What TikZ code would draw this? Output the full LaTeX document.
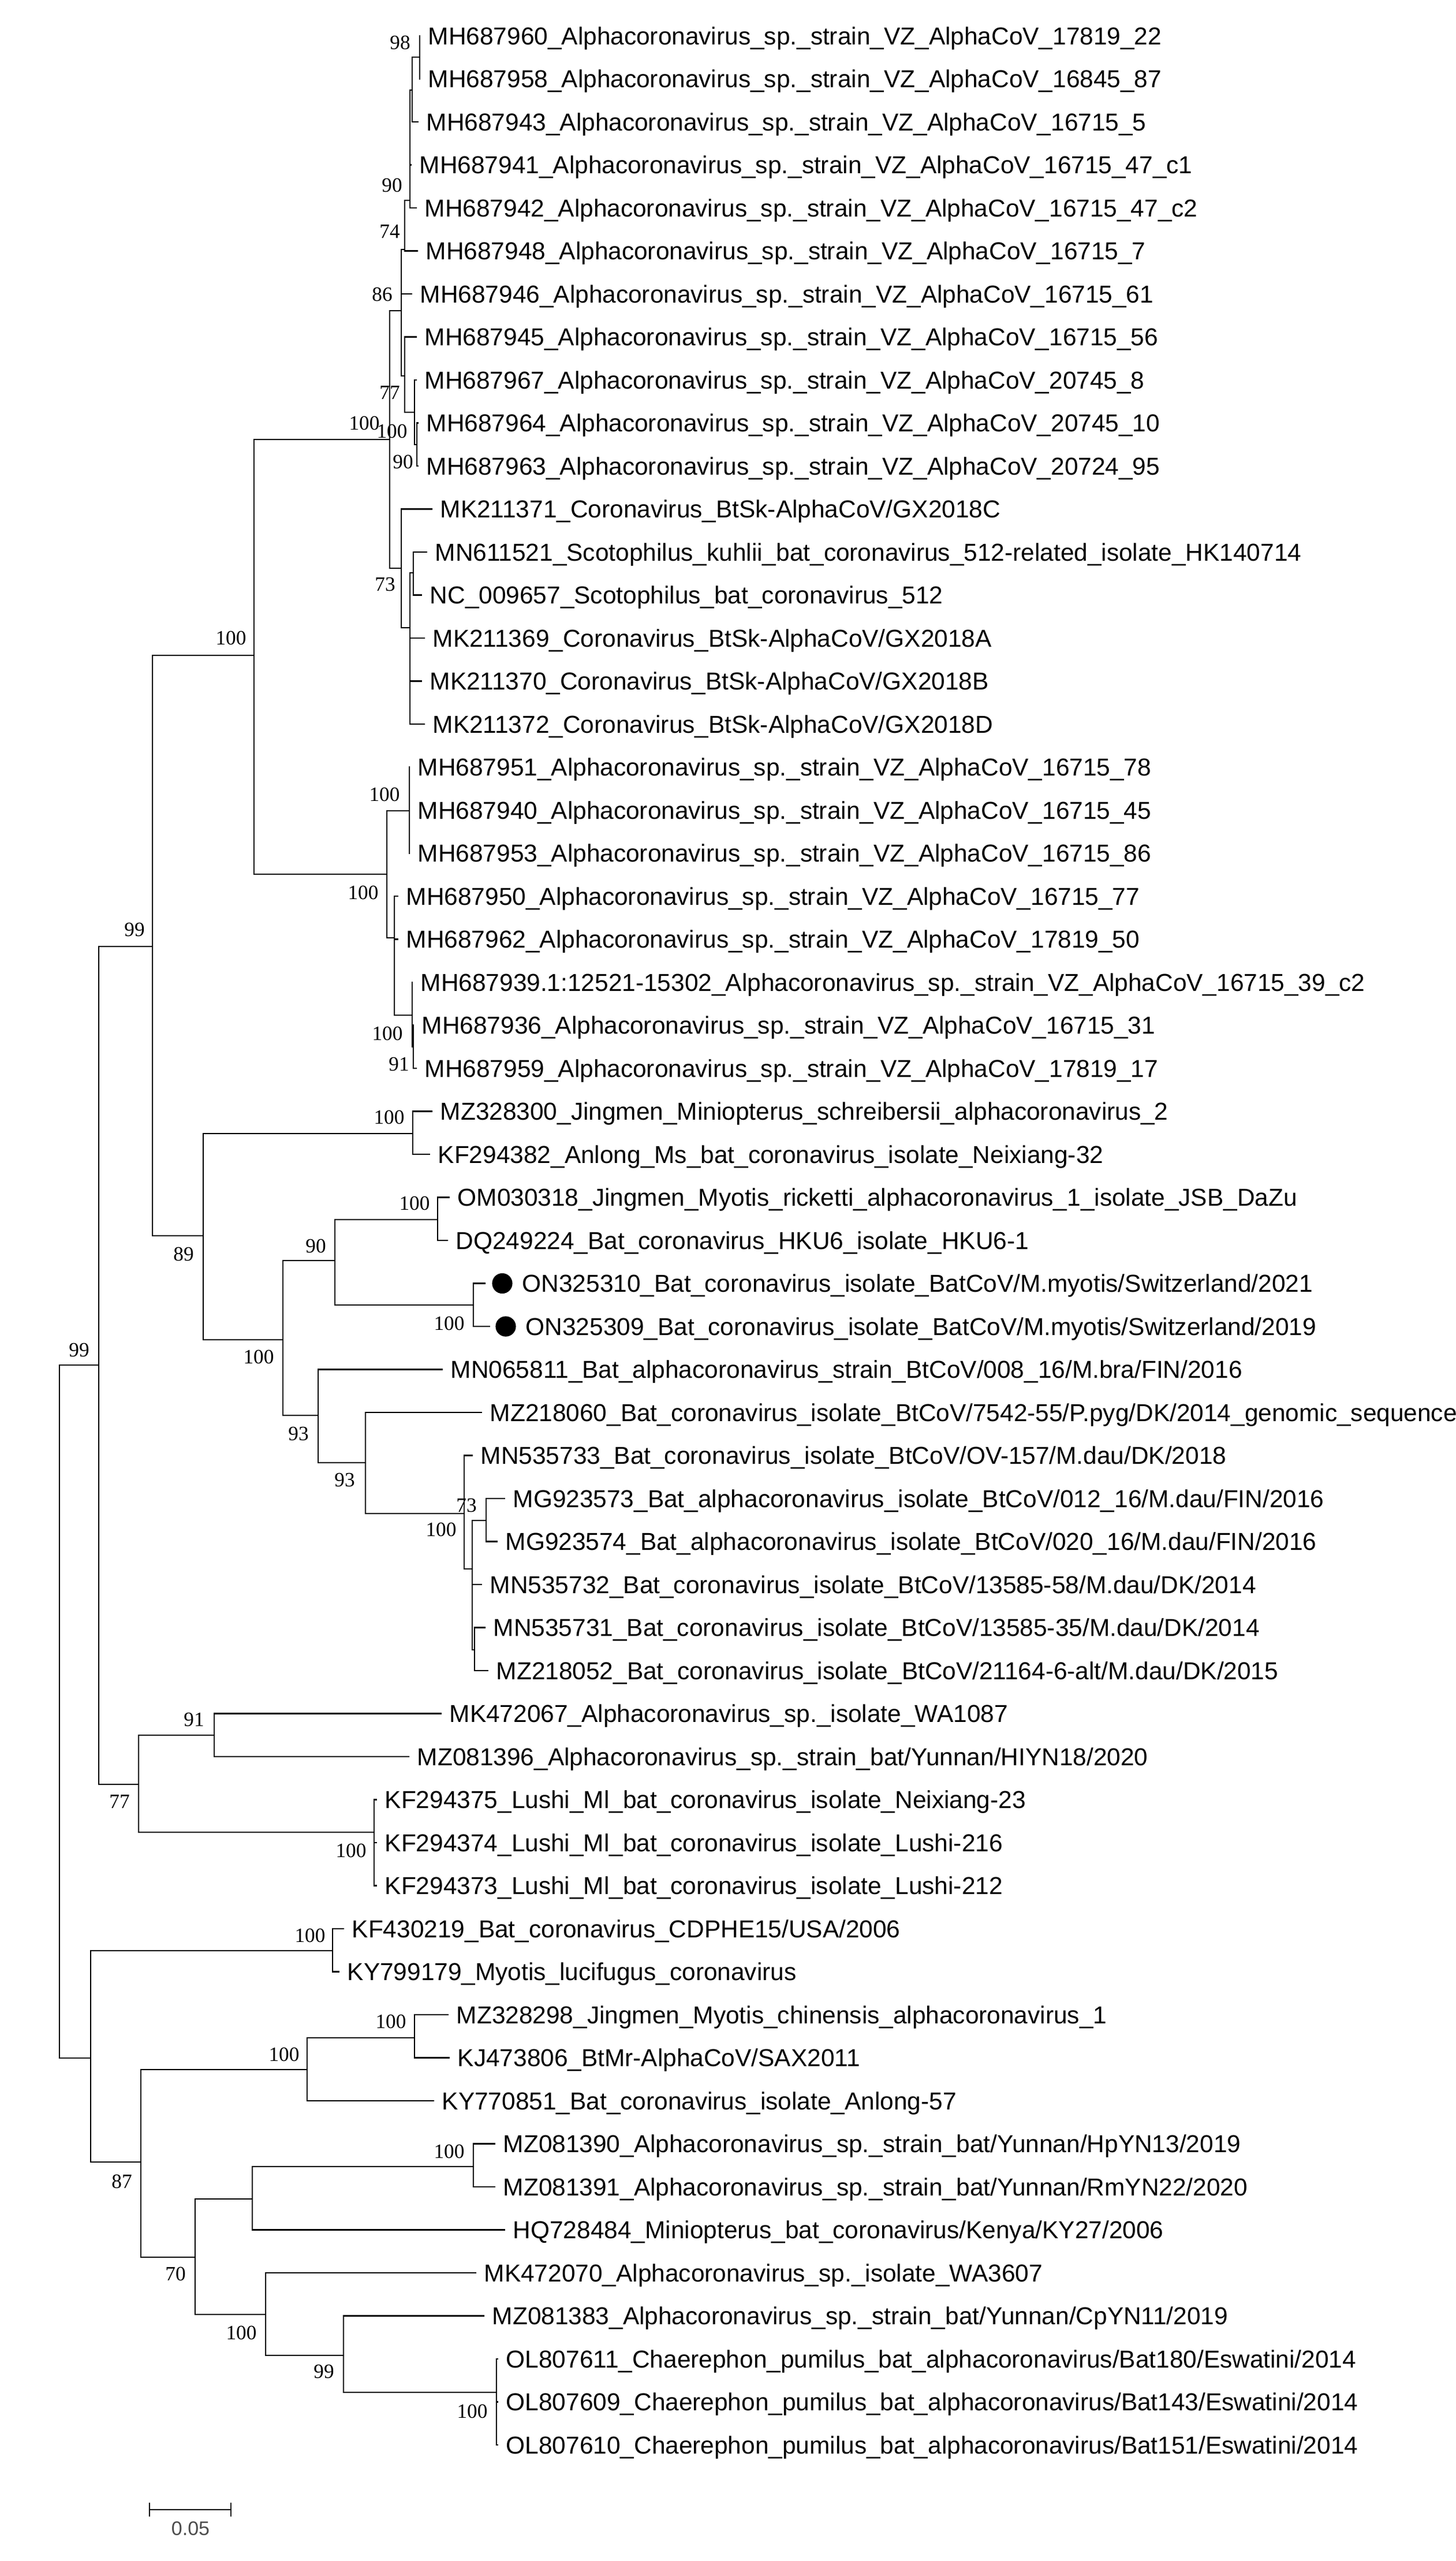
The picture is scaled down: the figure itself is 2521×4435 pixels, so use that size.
\documentclass[tikz,border=0pt]{standalone}
\usepackage{fontspec}
\setmainfont{Liberation Sans}
\newfontfamily\bsfont{Liberation Serif}
\newcommand{\VZ}{\_Alphacoronavirus\_sp.\_strain\_VZ\_AlphaCoV\_}
\newcommand{\LE}[4]{%
  \coordinate (L#1) at (#2,{62+74.5*(#1-1)});
  \node[leaf] (T#1) at (#3,{62+74.5*(#1-1)+15}) {#4};}
\newcommand{\LF}[3]{\LE{#1}{#2}{#2+14}{#3}}
\tikzset{
  leaf/.style={anchor=base west,inner sep=0pt,font=\fontsize{10.6}{12}\selectfont},
  bs/.style={inner sep=0pt,font=\bsfont\fontsize{8.8}{10}\selectfont},
  br/.style={line width=0.65pt,line cap=rect}
}
\begin{document}
\begin{tikzpicture}[x=0.25pt,y=-0.25pt]
\useasboundingbox (0,0) rectangle (2521,4435);
% leaves
\LF{1}{727}{MH687960\VZ 17819\_22}
\LF{2}{727}{MH687958\VZ 16845\_87}
\LF{3}{724}{MH687943\VZ 16715\_5}
\LF{4}{712}{MH687941\VZ 16715\_47\_c1}
\LF{5}{721}{MH687942\VZ 16715\_47\_c2}
\LF{6}{723}{MH687948\VZ 16715\_7}
\LF{7}{713}{MH687946\VZ 16715\_61}
\LF{8}{721}{MH687945\VZ 16715\_56}
\LF{9}{721}{MH687967\VZ 20745\_8}
\LF{10}{724}{MH687964\VZ 20745\_10}
\LF{11}{724}{MH687963\VZ 20724\_95}
\LF{12}{748}{MK211371\_Coronavirus\_BtSk-AlphaCoV/GX2018C}
\LF{13}{739}{MN611521\_Scotophilus\_kuhlii\_bat\_coronavirus\_512-related\_isolate\_HK140714}
\LF{14}{730}{NC\_009657\_Scotophilus\_bat\_coronavirus\_512}
\LF{15}{735}{MK211369\_Coronavirus\_BtSk-AlphaCoV/GX2018A}
\LF{16}{730}{MK211370\_Coronavirus\_BtSk-AlphaCoV/GX2018B}
\LF{17}{735}{MK211372\_Coronavirus\_BtSk-AlphaCoV/GX2018D}
\LF{18}{709}{MH687951\VZ 16715\_78}
\LF{19}{709}{MH687940\VZ 16715\_45}
\LF{20}{709}{MH687953\VZ 16715\_86}
\LF{21}{689}{MH687950\VZ 16715\_77}
\LF{22}{689}{MH687962\VZ 17819\_50}
\LF{23}{714}{MH687939.1:12521-15302\VZ 16715\_39\_c2}
\LF{24}{716}{MH687936\VZ 16715\_31}
\LF{25}{721}{MH687959\VZ 17819\_17}
\LF{26}{748}{MZ328300\_Jingmen\_Miniopterus\_schreibersii\_alphacoronavirus\_2}
\LF{27}{744}{KF294382\_Anlong\_Ms\_bat\_coronavirus\_isolate\_Neixiang-32}
\LF{28}{778}{OM030318\_Jingmen\_Myotis\_ricketti\_alphacoronavirus\_1\_isolate\_JSB\_DaZu}
\LF{29}{775}{DQ249224\_Bat\_coronavirus\_HKU6\_isolate\_HKU6-1}
\LE{30}{840}{904}{ON325310\_Bat\_coronavirus\_isolate\_BatCoV/M.myotis/Switzerland/2021}
\LE{31}{848}{910}{ON325309\_Bat\_coronavirus\_isolate\_BatCoV/M.myotis/Switzerland/2019}
\LF{32}{766}{MN065811\_Bat\_alphacoronavirus\_strain\_BtCoV/008\_16/M.bra/FIN/2016}
\LF{33}{834}{MZ218060\_Bat\_coronavirus\_isolate\_BtCoV/7542-55/P.pyg/DK/2014\_genomic\_sequence}
\LF{34}{818}{MN535733\_Bat\_coronavirus\_isolate\_BtCoV/OV-157/M.dau/DK/2018}
\LF{35}{874}{MG923573\_Bat\_alphacoronavirus\_isolate\_BtCoV/012\_16/M.dau/FIN/2016}
\LF{36}{861}{MG923574\_Bat\_alphacoronavirus\_isolate\_BtCoV/020\_16/M.dau/FIN/2016}
\LF{37}{834}{MN535732\_Bat\_coronavirus\_isolate\_BtCoV/13585-58/M.dau/DK/2014}
\LF{38}{840}{MN535731\_Bat\_coronavirus\_isolate\_BtCoV/13585-35/M.dau/DK/2014}
\LF{39}{845}{MZ218052\_Bat\_coronavirus\_isolate\_BtCoV/21164-6-alt/M.dau/DK/2015}
\LF{40}{764}{MK472067\_Alphacoronavirus\_sp.\_isolate\_WA1087}
\LF{41}{708}{MZ081396\_Alphacoronavirus\_sp.\_strain\_bat/Yunnan/HIYN18/2020}
\LF{42}{652}{KF294375\_Lushi\_Ml\_bat\_coronavirus\_isolate\_Neixiang-23}
\LF{43}{652}{KF294374\_Lushi\_Ml\_bat\_coronavirus\_isolate\_Lushi-216}
\LF{44}{652}{KF294373\_Lushi\_Ml\_bat\_coronavirus\_isolate\_Lushi-212}
\LF{45}{595}{KF430219\_Bat\_coronavirus\_CDPHE15/USA/2006}
\LF{46}{587}{KY799179\_Myotis\_lucifugus\_coronavirus}
\LF{47}{776}{MZ328298\_Jingmen\_Myotis\_chinensis\_alphacoronavirus\_1}
\LF{48}{778}{KJ473806\_BtMr-AlphaCoV/SAX2011}
\LF{49}{751}{KY770851\_Bat\_coronavirus\_isolate\_Anlong-57}
\LF{50}{857}{MZ081390\_Alphacoronavirus\_sp.\_strain\_bat/Yunnan/HpYN13/2019}
\LF{51}{857}{MZ081391\_Alphacoronavirus\_sp.\_strain\_bat/Yunnan/RmYN22/2020}
\LF{52}{874}{HQ728484\_Miniopterus\_bat\_coronavirus/Kenya/KY27/2006}
\LF{53}{824}{MK472070\_Alphacoronavirus\_sp.\_isolate\_WA3607}
\LF{54}{838}{MZ081383\_Alphacoronavirus\_sp.\_strain\_bat/Yunnan/CpYN11/2019}
\LF{55}{862}{OL807611\_Chaerephon\_pumilus\_bat\_alphacoronavirus/Bat180/Eswatini/2014}
\LF{56}{862}{OL807609\_Chaerephon\_pumilus\_bat\_alphacoronavirus/Bat143/Eswatini/2014}
\LF{57}{862}{OL807610\_Chaerephon\_pumilus\_bat\_alphacoronavirus/Bat151/Eswatini/2014}
% dots
\fill (870,2222.5) circle[radius=4.4pt];
\fill (876,2297) circle[radius=4.4pt];
% internal nodes
\coordinate (root) at (103,2964);
\coordinate (nA99) at (171,2364);
\coordinate (nR) at (157,3564);
\coordinate (nB) at (264,1639);
\coordinate (n440) at (440,1135);
\coordinate (nT100) at (675,761);
\coordinate (n86) at (695,538);
\coordinate (n74) at (701,432);
\coordinate (n90) at (710,347);
\coordinate (nA) at (714,156);
\coordinate (n98) at (727,99);
\coordinate (n77) at (701,651);
\coordinate (nb100) at (718,714);
\coordinate (nb90) at (722,770);
\coordinate (n73) at (695,984);
\coordinate (nS) at (710,1087);
\coordinate (nSco) at (716,992);
\coordinate (nc100) at (670,1514);
\coordinate (nd100) at (709,1404);
\coordinate (nE) at (683,1624);
\coordinate (nF) at (714,1758);
\coordinate (nG) at (716,1813);
\coordinate (n89) at (352,2140);
\coordinate (nMZ) at (715,1963);
\coordinate (ne100) at (490,2320);
\coordinate (n90c) at (580,2183);
\coordinate (nf100) at (758,2112);
\coordinate (nON) at (820,2260);
\coordinate (n93a) at (551,2451);
\coordinate (n93b) at (633,2533);
\coordinate (ng100) at (804,2621);
\coordinate (nH) at (818,2717);
\coordinate (n73b) at (842,2633);
\coordinate (nI) at (822,2857);
\coordinate (n77b) at (240,3090);
\coordinate (n91) at (371,3005);
\coordinate (nh100) at (648,3173);
\coordinate (nKF) at (576,3378);
\coordinate (n87) at (244,3744);
\coordinate (ni100) at (532,3584);
\coordinate (nj100) at (718,3529);
\coordinate (n70) at (338,3909);
\coordinate (nQ) at (437,3808);
\coordinate (nl100) at (820,3752);
\coordinate (nk100) at (460,4008);
\coordinate (n99) at (595,4079);
\coordinate (nm100) at (860,4143);
% edges
\foreach \p/\cs in {root/{nA99,nR}, nA99/{nB,n77b}, nB/{n440,n89}, n440/{nT100,nc100},
  nT100/{n86,n73}, n86/{n74,L7,n77}, n74/{n90,L6}, n90/{nA,L4,L5}, nA/{n98,L3}, n98/{L1,L2},
  n77/{L8,nb100}, nb100/{L9,nb90}, nb90/{L10,L11}, n73/{L12,nS}, nS/{nSco,L15,L16,L17},
  nSco/{L13,L14}, nc100/{nd100,nE}, nd100/{L18,L19,L20}, nE/{L21,L22,nF}, nF/{L23,nG},
  nG/{L24,L25}, n89/{nMZ,ne100}, nMZ/{L26,L27}, ne100/{n90c,n93a}, n90c/{nf100,nON},
  nf100/{L28,L29}, nON/{L30,L31}, n93a/{L32,n93b}, n93b/{L33,ng100}, ng100/{L34,nH},
  nH/{n73b,L37,nI}, n73b/{L35,L36}, nI/{L38,L39}, n77b/{n91,nh100}, n91/{L40,L41},
  nh100/{L42,L43,L44}, nR/{nKF,n87}, nKF/{L45,L46}, n87/{ni100,n70}, ni100/{nj100,L49},
  nj100/{L47,L48}, n70/{nQ,nk100}, nQ/{nl100,L52}, nl100/{L50,L51}, nk100/{L53,n99},
  n99/{L54,nm100}, nm100/{L55,L56,L57}}
  \foreach \c in \cs {\draw[br] (\p) |- (\c);};
% bootstrap values
\foreach \v/\x/\y in {98/693/74, 90/679/321, 74/675/401, 86/662/510, 77/675/680,
  100/631/733, 100/679/747, 90/698/800, 73/667/1012, 100/400/1105, 100/666/1376,
  100/629/1546, 100/671/1790, 91/691/1843, 99/233/1610, 100/674/1935, 89/318/2172,
  90/547/2158, 100/718/2084, 100/448/2350, 100/778/2292, 93/517/2483, 93/597/2563,
  73/808/2607, 100/764/2649, 99/137/2338, 91/336/2978, 77/207/3120, 100/608/3205,
  100/537/3352, 100/677/3501, 100/492/3558, 87/211/3778, 100/778/3726, 70/304/3938,
  100/418/4040, 99/561/4107, 100/818/4176}
  \node[bs] at (\x,\y) {\v};
% scale bar
\coordinate (sb1) at (259,4346);
\coordinate (sb2) at (400,4346);
\draw[line width=0.65pt] (sb1) -- (sb2);
\draw[line width=0.65pt] (259,4334) -- (259,4358);
\draw[line width=0.65pt] (400,4334) -- (400,4358);
\node[inner sep=0pt,text=black!70,font=\fontsize{8.5}{10}\selectfont] (sbt) at (330,4379) {0.05};
\end{tikzpicture}
\end{document}
